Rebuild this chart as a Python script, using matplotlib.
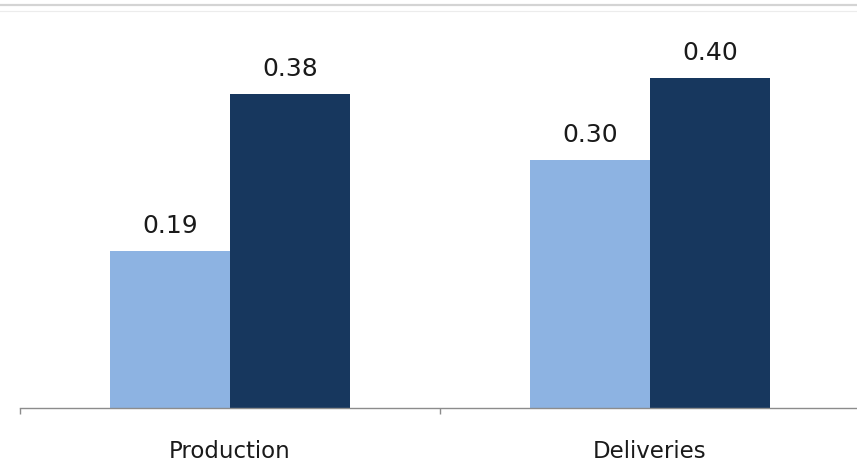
import matplotlib
matplotlib.use("Agg")
import matplotlib.pyplot as plt
from matplotlib.lines import Line2D
import numpy as np

# Values per category, two series
categories = ["Production", "Deliveries"]
series_light = [0.19, 0.30]
series_dark = [0.38, 0.40]

light_colour = "#8DB3E2"
dark_colour = "#17375E"
axis_colour = "#8C8C8C"

W, H = 857, 463
fig = plt.figure(figsize=(W / 100, H / 100), dpi=100)
fig.patch.set_facecolor("white")

# axes: left edge at 20px, baseline at 408px, one category = 420px
left, base, cat_px = 20, 408, 420
top = 12
ax = fig.add_axes([left / W, (H - base) / H, 2 * cat_px / W, (base - top) / H])
ax.set_xlim(-0.5, 1.5)
ax.set_ylim(0, (base - top) / 825)

x = np.arange(len(categories))
width = 120 / cat_px

bars_light = ax.bar(x - width / 2, series_light, width, color=light_colour, linewidth=0)
bars_dark = ax.bar(x + width / 2, series_dark, width, color=dark_colour, linewidth=0)

# value labels above bars
for bars, vals in [(bars_light, series_light), (bars_dark, series_dark)]:
    for b, v in zip(bars, vals):
        ax.annotate(f"{v:.2f}", (b.get_x() + b.get_width() / 2, v),
                    xytext=(0, 13), textcoords="offset points",
                    ha="center", va="baseline", fontsize=18, color="#1a1a1a")

# category labels under the axis
for xi, name in zip(x, categories):
    ax.annotate(name, (xi, 0), xycoords=("data", "axes fraction"),
                xytext=(0, -36), textcoords="offset points",
                ha="center", va="baseline", fontsize=16.5, color="#1a1a1a")

for s in ["left", "right", "top"]:
    ax.spines[s].set_visible(False)
ax.spines["bottom"].set_color(axis_colour)
ax.spines["bottom"].set_linewidth(1)

ax.set_yticks([])
ax.set_xticks([])
ax.set_xticks([-0.5, 0.5, 1.5], minor=True)
ax.tick_params(axis="x", which="minor", length=4.5, width=1, color=axis_colour)

# thin frame lines along the top
fig.add_artist(Line2D([0, 1], [1 - 4.5 / H, 1 - 4.5 / H], color="#D4D4D4", linewidth=1.6))
fig.add_artist(Line2D([0, 1], [1 - 11 / H, 1 - 11 / H], color="#ECECEC", linewidth=0.8))

fig.savefig("out.png", dpi=100, facecolor="white")
